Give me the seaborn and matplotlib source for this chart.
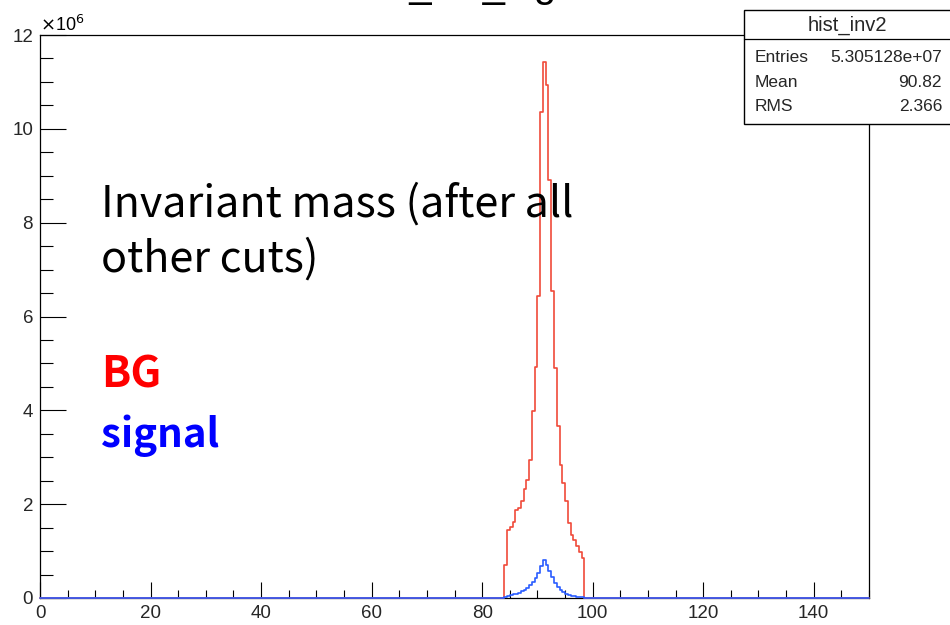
import numpy as np
import pandas as pd
import matplotlib
matplotlib.use("Agg")
import matplotlib.pyplot as plt
import seaborn as sns
from matplotlib.patches import Rectangle
from matplotlib.lines import Line2D
from matplotlib.ticker import MultipleLocator, FuncFormatter

# ---------------- data (counts in units of 10^6) ----------------
bin_width = 0.5
mass_centers = [84.25, 84.75, 85.25, 85.75, 86.25, 86.75, 87.25, 87.75, 88.25, 88.75,
                89.25, 89.75, 90.25, 90.75, 91.25, 91.75, 92.25, 92.75, 93.25, 93.75,
                94.25, 94.75, 95.25, 95.75, 96.25, 96.75, 97.25, 97.75, 98.25]
bg_counts = [0.70, 1.44, 1.51, 1.63, 1.88, 1.92, 2.06, 2.32, 2.52, 2.95,
             3.98, 4.93, 6.44, 10.36, 11.43, 10.93, 8.90, 6.55, 4.91, 3.66,
             2.84, 2.45, 2.06, 1.60, 1.35, 1.24, 1.10, 0.99, 0.85]
sig_counts = [0.03, 0.05, 0.065, 0.08, 0.09, 0.11, 0.14, 0.18, 0.22, 0.28,
              0.35, 0.43, 0.53, 0.68, 0.82, 0.71, 0.57, 0.44, 0.32, 0.24,
              0.17, 0.12, 0.085, 0.06, 0.04, 0.035, 0.02, 0.02, 0.015]
x_min, x_max = 0, 150
y_max = 12
x_ticks = [0, 20, 40, 60, 80, 100, 120, 140]
y_ticks = [0, 2, 4, 6, 8, 10, 12]
stats_name = "hist_inv2"
stats_rows = [("Entries", "5.305128e+07"), ("Mean", "90.82"), ("RMS", "2.366")]
title_text = "hist_inv_sig"
note_line1 = "Invariant mass (after all"
note_line2 = "other cuts)"
label_bg = "BG"
label_sig = "signal"

# ---------------- style ----------------
sns.set_style("white")
plt.rcParams["font.family"] = ["Liberation Sans", "DejaVu Sans"]

W, H = 950, 625
fig = plt.figure(figsize=(W / 100, H / 100), dpi=100)
L, R, B, T = 40, 869, 598, 35
ax = fig.add_axes([L / W, (H - B) / H, (R - L) / W, (B - T) / H])

df = pd.DataFrame({"mass": mass_centers, "bg": bg_counts, "sig": sig_counts})

sns.histplot(data=df, x="mass", weights="bg", binwidth=bin_width, binrange=(x_min, x_max),
             element="step", fill=False, color="#f04a3a", linewidth=1.2, ax=ax,
             zorder=3, clip_on=False)
sns.histplot(data=df, x="mass", weights="sig", binwidth=bin_width, binrange=(x_min, x_max),
             element="step", fill=False, color="#2a5cff", linewidth=1.2, ax=ax,
             zorder=3.1, clip_on=False)

ax.set_xlim(x_min, x_max)
ax.set_ylim(0, y_max)
ax.set_xlabel("")
ax.set_ylabel("")
ax.set_xticks(x_ticks)
ax.set_yticks(y_ticks)
ax.xaxis.set_minor_locator(MultipleLocator(5))
ax.yaxis.set_minor_locator(MultipleLocator(0.5))
ax.yaxis.set_major_formatter(FuncFormatter(lambda v, p: f"{v:g}"))
ax.tick_params(axis="x", which="major", direction="in", length=11.5, width=0.8,
               color="black", labelsize=13.5, pad=5, bottom=True, top=False)
ax.tick_params(axis="x", which="minor", direction="in", length=5.8, width=0.8,
               color="black", bottom=True, top=False)
ax.tick_params(axis="y", which="major", direction="in", length=18.7, width=0.8,
               color="black", labelsize=13.5, pad=5, left=True, right=False)
ax.tick_params(axis="y", which="minor", direction="in", length=9.4, width=0.8,
               color="black", left=True, right=False)
for s in ax.spines.values():
    s.set_color("black")
    s.set_linewidth(0.9)

# exponent label
fig.text(L / W, (H - 31) / H, r"$\times$10$^{6}$", fontsize=13, ha="left", va="baseline",
         color="black")

# clipped title at top of canvas (as in the reference, only its bottom shows)
fig.text(451.5 / W, 1.0 + 3 / H, title_text, fontsize=28.8, ha="center", va="baseline",
         color="black")

# annotation texts
cjk = ["Noto Sans CJK JP", "DejaVu Sans"]
fig.text(101 / W, (H - 217) / H, note_line1, fontsize=31, family=cjk,
         ha="left", va="baseline", color="black")
fig.text(101 / W, (H - 272) / H, note_line2, fontsize=31, family=cjk,
         ha="left", va="baseline", color="black")
fig.text(101 / W, (H - 388) / H, label_bg, fontsize=31, fontweight="bold",
         family=cjk, ha="left", va="baseline", color="#ff0000")
fig.text(101 / W, (H - 447) / H, label_sig, fontsize=29, fontweight="bold",
         family=cjk, ha="left", va="baseline", color="#0000ff")

# stats box
bx0, by0, by1 = 744, 124, 10
fig.add_artist(Rectangle((bx0 / W, (H - by0) / H), (W + 5 - bx0) / W, (by0 - by1) / H,
                         transform=fig.transFigure, facecolor="white", edgecolor="black",
                         linewidth=1.0, zorder=5))
fig.add_artist(Line2D([bx0 / W, 1.0], [(H - 39) / H, (H - 39) / H],
                      transform=fig.transFigure, color="black", linewidth=0.9, zorder=6))
fig.text(847 / W, (H - 31) / H, stats_name, fontsize=14.5, ha="center", va="baseline",
         zorder=7)
row_y = [62, 87, 111]
for (k, v), yy in zip(stats_rows, row_y):
    fig.text(755 / W, (H - yy) / H, k, fontsize=12.5, ha="left", va="baseline", zorder=7)
    fig.text(942 / W, (H - yy) / H, v, fontsize=12.5, ha="right", va="baseline", zorder=7)

fig.savefig("out.png", dpi=100)
